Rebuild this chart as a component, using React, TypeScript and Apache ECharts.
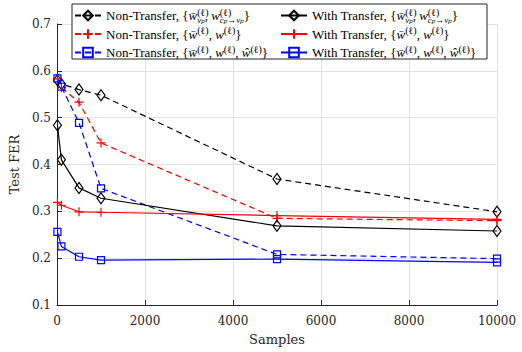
import React, { useEffect, useRef } from "react";
import * as echarts from "echarts";

const samples = [10, 100, 500, 1000, 5000, 10000];
const ntVC = [0.58, 0.572, 0.56, 0.548, 0.369, 0.299];
const ntW = [0.583, 0.564, 0.533, 0.446, 0.285, 0.28];
const ntWH = [0.584, 0.566, 0.489, 0.349, 0.208, 0.199];
const wtVC = [0.484, 0.41, 0.35, 0.328, 0.269, 0.258];
const wtW = [0.319, 0.313, 0.299, 0.298, 0.291, 0.283];
const wtWH = [0.256, 0.225, 0.203, 0.196, 0.198, 0.191];

const xTicks = { min: 0, max: 10000, interval: 2000 };
const yTicks = { min: 0.1, max: 0.7, interval: 0.1 };

const names = ["NT-vc", "NT-w", "NT-wh", "WT-vc", "WT-w", "WT-wh"];
const WB = "{m|w\u0304}";
const VC = `{t|{}${WB}{sp0|(ℓ)}{sb|v}{ssb|p}{t|, }{m|w}{sp0|(ℓ)}{sb|c}{ssb|p}{sb|→}{sb|v}{ssb|p}{t|}}`;
const WW = `{t|{}${WB}{sp|(ℓ)}{t|, }{m|w}{sp|(ℓ)}}`;
const WH = `{t|{}${WB}{sp|(ℓ)}{t|, }{m|w}{sp|(ℓ)}{t|, }{m|ŵ}{sp|(ℓ)}}`;
const labels: Record<string, string> = {
  "NT-vc": `{t|Non-Transfer, }${VC}`,
  "NT-w": `{t|Non-Transfer, }${WW}`,
  "NT-wh": `{t|Non-Transfer, }${WH}`,
  "WT-vc": `{t|With Transfer, }${VC}`,
  "WT-w": `{t|With Transfer, }${WW}`,
  "WT-wh": `{t|With Transfer, }${WH}`,
};

const LF = "'Liberation Serif', 'Times New Roman', 'DejaVu Serif', serif";
const AF = "'DejaVu Serif', serif";
const PLUS = "path://M5,0L5,10M0,5L10,5";

export default function App() {
  const ref = useRef<HTMLDivElement>(null);
  useEffect(() => {
    if (!ref.current) return;
    const chart = echarts.init(ref.current, null, { renderer: "svg" });
    const mk = (
      name: string,
      vals: number[],
      color: string,
      dashed: boolean,
      symbol: string,
      symbolSize: any
    ) => ({
      name,
      type: "line",
      data: samples.map((x, i) => [x, vals[i]]),
      symbol,
      symbolSize,
      showSymbol: true,
      color,
      lineStyle: { color, width: 1.2, type: dashed ? [6, 4] : "solid" },
      itemStyle: { color: "rgba(0,0,0,0)", borderColor: color, borderWidth: 1.2 },
      emphasis: { disabled: true },
      z: 2,
    });
    const base = { fontFamily: LF, color: "#000" };
    const rich = {
      t: { ...base, fontSize: 13, lineHeight: 17 },
      m: { ...base, fontSize: 13, lineHeight: 17, fontStyle: "italic" },
      sp0: { ...base, fontSize: 10, lineHeight: 10, verticalAlign: "top", width: 0 },
      sp: { ...base, fontSize: 10, lineHeight: 10, verticalAlign: "top" },
      sb: { ...base, fontSize: 9, lineHeight: 9, verticalAlign: "bottom", fontStyle: "italic" },
      ssb: { ...base, fontSize: 7, lineHeight: 6, verticalAlign: "bottom", fontStyle: "italic" },
    };
    const legendCommon = {
      orient: "vertical",
      top: 7,
      itemWidth: 26,
      itemHeight: 12,
      itemGap: 1.5,
      selectedMode: false,
      padding: 0,
      z: 5,
      formatter: (n: string) => labels[n],
      textStyle: { fontFamily: LF, fontSize: 13, lineHeight: 17, color: "#000", rich },
    };
    chart.setOption({
      animation: false,
      grid: { left: 57, right: 25, top: 24, bottom: 47 },
      xAxis: {
        type: "value",
        ...xTicks,
        name: "Samples",
        nameLocation: "middle",
        nameGap: 28,
        nameTextStyle: { fontFamily: AF, fontSize: 13, color: "#262626" },
        axisLine: { show: true, lineStyle: { color: "#262626", width: 1 } },
        axisTick: { show: true, inside: true, length: 5, lineStyle: { color: "#262626" } },
        axisLabel: {
          fontFamily: AF,
          fontSize: 12,
          color: "#262626",
          margin: 10,
          formatter: (v: number) => String(v),
        },
        splitLine: { show: true, lineStyle: { color: "#e3e3e3", width: 1 } },
      },
      yAxis: {
        type: "value",
        ...yTicks,
        name: "Test FER",
        nameLocation: "middle",
        nameGap: 25,
        nameTextStyle: { fontFamily: AF, fontSize: 13, color: "#262626" },
        axisLine: { show: true, lineStyle: { color: "#262626", width: 1 } },
        axisTick: { show: true, inside: true, length: 5, lineStyle: { color: "#262626" } },
        axisLabel: {
          fontFamily: AF,
          fontSize: 12,
          color: "#262626",
          margin: 6,
          formatter: (v: number) => v.toFixed(1),
        },
        splitLine: { show: true, lineStyle: { color: "#e3e3e3", width: 1 } },
      },
      legend: [
        { ...legendCommon, left: 74, data: names.slice(0, 3) },
        { ...legendCommon, left: 280, data: names.slice(3) },
      ],
      graphic: [
        {
          type: "rect",
          z: 4,
          shape: { x: 72, y: 4, width: 415, height: 55 },
          style: { fill: "#fff", stroke: "#262626", lineWidth: 1 },
        },
      ],
      series: [
        mk("NT-vc", ntVC, "#000000", true, "diamond", [8, 11]),
        mk("NT-w", ntW, "#ff0000", true, PLUS, 9),
        mk("NT-wh", ntWH, "#0000ff", true, "rect", 7),
        mk("WT-vc", wtVC, "#000000", false, "diamond", [8, 11]),
        mk("WT-w", wtW, "#ff0000", false, PLUS, 9),
        mk("WT-wh", wtWH, "#0000ff", false, "rect", 7),
      ],
    });
    return () => chart.dispose();
  }, []);
  return (
    <div
      ref={ref}
      style={{ position: "fixed", left: 0, top: 0, width: 522, height: 352, background: "#fff" }}
    />
  );
}
